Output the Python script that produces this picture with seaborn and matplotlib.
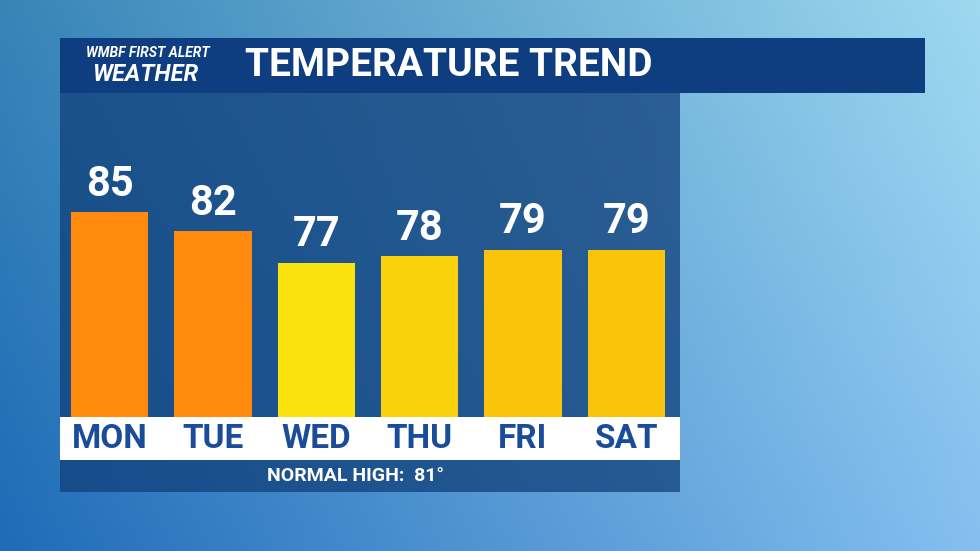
import numpy as np
import matplotlib
matplotlib.use("Agg")
import matplotlib.pyplot as plt
import seaborn as sns
import pandas as pd

days = ["MON", "TUE", "WED", "THU", "FRI", "SAT"]
temps = [85, 82, 77, 78, 79, 79]
colors = ["#FF8A0C", "#FF8A0C", "#FAE20E", "#FAD20C", "#F9C40A", "#F9C40A"]
title = "TEMPERATURE TREND"
normal = "NORMAL HIGH:  81°"

sns.set_theme(style="white")
plt.rcParams['font.family'] = ['Roboto', 'DejaVu Sans']

fig = plt.figure(figsize=(9.8, 5.51), dpi=100)
bg = fig.add_axes([0, 0, 1, 1])
yy, xx = np.mgrid[0:1:200j, 0:1:350j]
r = 0.12 + 0.40 * xx + 0.1 * (1 - yy)
g = 0.42 + 0.33 * xx + 0.1 * (1 - yy)
b = 0.72 + 0.22 * xx
img = np.clip(np.dstack([r, g, b]), 0, 1)
bg.imshow(img, extent=[0, 1, 0, 1], aspect="auto", origin="upper")
bg.set_xlim(0, 1); bg.set_ylim(0, 1); bg.axis("off")
bg.add_patch(plt.Rectangle((60/980, 1-93/551), 865/980, 55/551, facecolor="#0E3E80", lw=0, zorder=2))
bg.add_patch(plt.Rectangle((60/980, 1-492/551), 620/980, 399/551, facecolor="#10407A", lw=0, alpha=0.75, zorder=2))
bg.add_patch(plt.Rectangle((60/980, 1-460/551), 620/980, 43/551, facecolor="white", lw=0, zorder=3))
bg.text(245/980, 1-66/551, title, color="white", fontsize=28, fontweight="bold", va="center", zorder=4)
bg.text(148/980, 1-53/551, "WMBF FIRST ALERT", color="white", fontsize=10, fontweight="bold",
        fontstyle="italic", ha="center", va="center", zorder=4)
bg.text(145/980, 1-75/551, "WEATHER", color="white", fontsize=17, fontweight="bold",
        fontstyle="italic", ha="center", va="center", zorder=4)
bg.text(355/980, 1-476/551, normal, color="white", fontsize=14, fontweight="bold",
        ha="center", va="center", zorder=4)

ax = fig.add_axes([58/980, 1-417/551, 620/980, 322/551])
ax.patch.set_alpha(0)
df = pd.DataFrame({"day": days, "temp": temps})
sns.barplot(data=df, x="day", y="temp", hue="day", palette=colors, legend=False,
            width=0.75, saturation=1, linewidth=0, ax=ax)
ax.set_ylim(52.5, 103.6)
ax.set_xlim(-0.5, 5.5)
for i, t in enumerate(temps):
    ax.text(i, t + 1.2, str(t), color="white", fontsize=30, fontweight="bold", ha="center", va="bottom")
    ax.text(i, 52.5 - 3.5, days[i], color="#1A4C9A", fontsize=24, fontweight="bold",
            ha="center", va="center", clip_on=False)
ax.set_xticks([]); ax.set_yticks([])
ax.set_xlabel(""); ax.set_ylabel("")
for s in ax.spines.values():
    s.set_visible(False)
fig.savefig("out.png", dpi=100)
